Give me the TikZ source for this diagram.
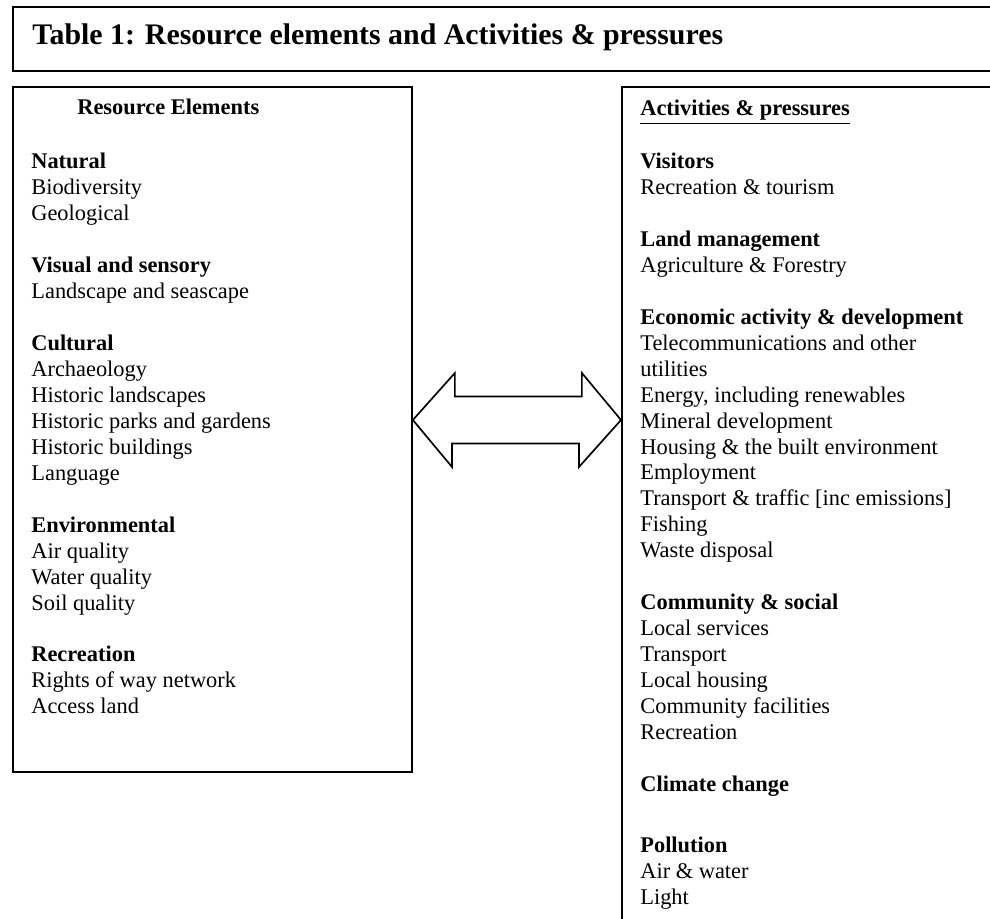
\documentclass[tikz,border=0pt]{standalone}
\usepackage{fontspec}
\setmainfont{Liberation Serif}
\begin{document}
\begin{tikzpicture}[x=0.5357pt,y=-0.5357pt,
  box/.style={draw, line width=1pt, inner sep=0pt, anchor=north west},
  txt/.style={anchor=base west, inner sep=0pt, font=\fontsize{12pt}{13.9pt}\selectfont},
  arrowline/.style={draw, line width=0.9pt, line join=miter}]
\useasboundingbox (0,0) rectangle (990,919);
\clip (0,0) rectangle (990,919);
% boxes
\node[box, minimum width={1000*0.5357pt}, minimum height={64*0.5357pt}] (titlebox) at (11.7,6.5) {};
\node[box, minimum width={399*0.5357pt}, minimum height={685*0.5357pt}] (left) at (12,86) {};
\node[box, minimum width={500*0.5357pt}, minimum height={900*0.5357pt}] (right) at (621,86) {};
% texts
\node[txt, font=\fontsize{16pt}{18pt}\selectfont\bfseries] (title) at (32,45) {Table 1: Resource elements and Activities \& pressures};
\node[txt, font=\fontsize{12pt}{13.9pt}\selectfont\bfseries] (rehead) at (77,115) {Resource Elements};
\node[txt] (reslist) at (31,169) {\begin{tabular}[t]{@{}l@{}}
\textbf{Natural}\\
Biodiversity\\
Geological\\
\\
\textbf{Visual and sensory}\\
Landscape and seascape\\
\\
\textbf{Cultural}\\
Archaeology\\
Historic landscapes\\
Historic parks and gardens\\
Historic buildings\\
Language\\
\\
\textbf{Environmental}\\
Air quality\\
Water quality\\
Soil quality\\
\\
\textbf{Recreation}\\
Rights of way network\\
Access land
\end{tabular}};
\node[txt] (actlist) at (640,116) {\begin{tabular}[t]{@{}l@{}}
\underline{\textbf{Activities \& pressures}}\\
\\
\textbf{Visitors}\\
Recreation \& tourism\\
\\
\textbf{Land management}\\
Agriculture \& Forestry\\
\\
\textbf{Economic activity \& development}\\
Telecommunications and other\\
utilities\\
Energy, including renewables\\
Mineral development\\
Housing \& the built environment\\
Employment\\
Transport \& traffic [inc emissions]\\
Fishing\\
Waste disposal\\
\\
\textbf{Community \& social}\\
Local services\\
Transport\\
Local housing\\
Community facilities\\
Recreation\\
\\
\textbf{Climate change}\\[18.75pt]
\textbf{Pollution}\\
Air \& water\\
Light
\end{tabular}};
% double arrow between the boxes
\coordinate (amid) at (515,420);
\coordinate (tipL) at (left.east |- amid);
\coordinate (tipR) at (right.west |- amid);
\draw[arrowline] (tipL) -- ++(42,-47) -- ++(0,23.5) -- ++(127,0) -- ++(0,-23.5)
  -- (tipR) -- ++(-42,47) -- ++(0,-23.5) -- ++(-127,0) -- ++(0,23.5) -- cycle;
\end{tikzpicture}
\end{document}
